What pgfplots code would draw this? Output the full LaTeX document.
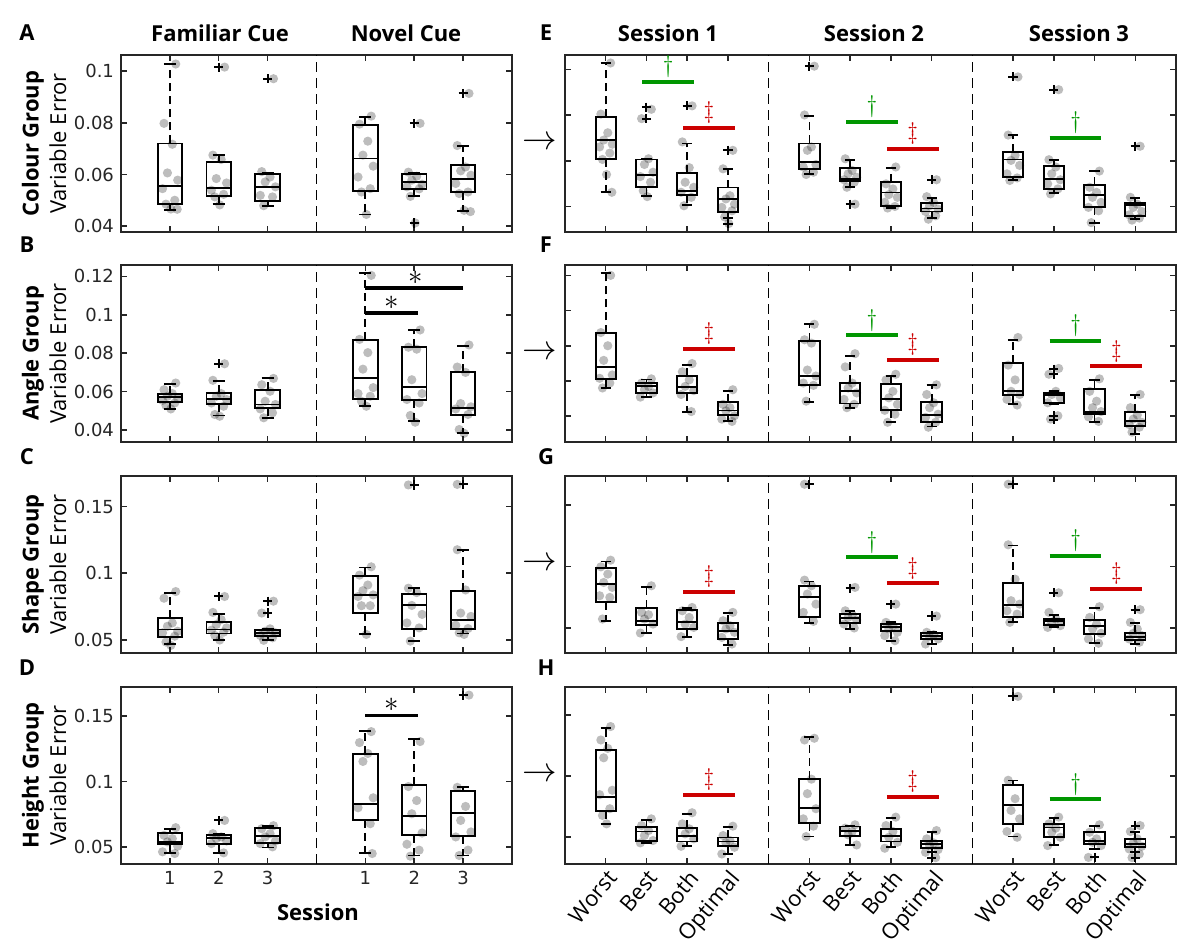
\documentclass[border=0pt]{standalone}
\usepackage{pgfplots}
\pgfplotsset{compat=1.18}
\usepackage{fontspec}
\setmainfont{Open Sans}
\newfontfamily\tickfont{DejaVu Sans}
\definecolor{sgreen}{RGB}{0,150,0}
\definecolor{sred}{RGB}{204,0,0}
\definecolor{axc}{RGB}{38,38,38}
\tikzset{
  sym/.style={anchor=south, inner sep=0pt, yshift=2pt, font=\fontsize{11.5}{11.5}\selectfont},
  star/.style={anchor=south, inner sep=0pt, yshift=1.5pt, font=\fontsize{15}{15}\selectfont},
}
\pgfplotsset{
  base/.style={
    scale only axis, anchor=south west, height=88.5pt,
    axis line style={line width=0.75pt, axc},
    tick style={line width=0.75pt, axc},
    major tick length=3pt,
    ticklabel style={font=\tickfont\fontsize{9}{10}\selectfont, text=axc},
    /pgf/number format/assume math mode=true,
    yticklabel style={/pgf/number format/fixed, /pgf/number format/precision=2},
    clip=false,
  },
  leftax/.style={base, width=195.5pt, xmin=0, xmax=8, xtick={1,2,3,5,6,7}, xticklabels={}},
  rightax/.style={base, width=305.5pt, xmin=0, xmax=15, xtick={1,2,3,4,6,7,8,9,11,12,13,14}, xticklabels={}, yticklabels={}},
  dotst/.style={only marks, mark=*, mark size=2.3pt, mark options={draw opacity=0, fill=black, fill opacity=0.26}},
  outst/.style={only marks, mark=+, mark size=2.3pt, mark options={black, line width=1pt}},
  sepl/.style={black, line width=0.7pt, dash pattern=on 5pt off 3pt},
  boxl/.style={black, solid, line width=0.95pt, no marks},
  wskl/.style={black, line width=0.9pt, dash pattern=on 4pt off 2.5pt, no marks},
}
% box: position, lower whisker, lower quartile, median, upper quartile, upper whisker
\newcommand\bx[6]{%
  \pgfmathsetmacro\xl{#1-0.25}\pgfmathsetmacro\xr{#1+0.25}%
  \pgfmathsetmacro\cl{#1-0.125}\pgfmathsetmacro\cr{#1+0.125}%
  \edef\tmpbx{%
    \noexpand\addplot[wskl] coordinates {(#1,#5) (#1,#6)};
    \noexpand\addplot[wskl] coordinates {(#1,#3) (#1,#2)};
    \noexpand\addplot[boxl] coordinates {(\cl,#6) (\cr,#6)};
    \noexpand\addplot[boxl] coordinates {(\cl,#2) (\cr,#2)};
    \noexpand\addplot[boxl, line join=miter] coordinates {(\xl,#3) (\xr,#3) (\xr,#5) (\xl,#5) (\xl,#3) (\xr,#3)};
    \noexpand\addplot[boxl] coordinates {(\xl,#4) (\xr,#4)};
  }\tmpbx}
\newcommand\sg[6]{\addplot[#1, line width=2pt] coordinates {(#2,#4) (#3,#4)};
  \node[sym, text=#1] at (axis cs:#5,#4) {#6};}
\newcommand\sigbar[4]{\addplot[black, line width=1.8pt] coordinates {(#1,#3) (#2,#3)};
  \node[star] at (axis cs:#4,#3) {$\ast$};}

\begin{document}
\begin{tikzpicture}
\path[use as bounding box] (0,0) rectangle (600pt,474.5pt);

% ---------------- A ----------------
\begin{axis}[leftax, at={(60.5pt,358.5pt)}, ymin=0.0377, ymax=0.1063, ytick={0.04,0.06,0.08,0.1}]
\addplot[sepl] coordinates {(4,0.0377) (4,0.1063)};
\addplot[dotst] coordinates {
(1.12,0.1028)(0.88,0.0798)(1.05,0.0717)(0.95,0.0606)(1.16,0.0578)(0.85,0.0545)(1.10,0.0500)(0.92,0.0485)(1.02,0.0466)(1.15,0.0465)
(2.12,0.1016)(1.88,0.0675)(2.05,0.0658)(1.95,0.0584)(2.16,0.0567)(1.85,0.0539)(2.10,0.0523)(1.92,0.0513)(2.02,0.0482)
(3.12,0.0971)(2.88,0.0611)(3.05,0.059)(2.95,0.0571)(3.16,0.0552)(2.85,0.0519)(3.10,0.0513)(2.92,0.0479)
(5.12,0.0826)(4.88,0.0795)(5.05,0.0729)(4.95,0.0675)(5.16,0.0632)(4.85,0.059)(5.10,0.0545)(4.92,0.0532)(5.02,0.0445)
(6.12,0.0798)(5.88,0.0609)(6.05,0.0593)(5.95,0.0578)(6.16,0.0562)(5.85,0.0552)(6.10,0.0544)(5.92,0.0515)(6.02,0.0412)
(7.12,0.0914)(6.88,0.0712)(7.05,0.0629)(6.95,0.0614)(7.16,0.0597)(6.85,0.0565)(7.10,0.0532)(6.92,0.0526)(7.02,0.0461)(7.15,0.0456)};
\bx{1}{0.0463}{0.0484}{0.0557}{0.0720}{0.1028}
\bx{2}{0.0484}{0.0518}{0.0549}{0.0647}{0.0675}
\bx{3}{0.0478}{0.0496}{0.0550}{0.0602}{0.0606}
\bx{5}{0.0445}{0.0536}{0.0662}{0.0790}{0.0824}
\bx{6}{0.0515}{0.0544}{0.0571}{0.0602}{0.0606}
\bx{7}{0.0458}{0.0532}{0.0584}{0.0637}{0.0712}
\addplot[outst] coordinates {(2,0.1016)(3,0.0971)(6,0.0798)(6,0.0412)(7,0.0914)};
\end{axis}

% ---------------- B ----------------
\begin{axis}[leftax, at={(60.5pt,253.5pt)}, ymin=0.0338, ymax=0.1259, ytick={0.04,0.06,0.08,0.1,0.12}]
\addplot[sepl] coordinates {(4,0.0338) (4,0.1259)};
\addplot[dotst] coordinates {
(1.12,0.0645)(0.88,0.061)(1.05,0.059)(0.95,0.0576)(1.16,0.0564)(0.85,0.0555)(1.10,0.0541)(0.92,0.0528)(1.02,0.051)
(2.12,0.0745)(1.88,0.0659)(2.05,0.059)(1.95,0.0576)(2.16,0.0559)(1.85,0.0541)(2.10,0.0524)(1.92,0.0481)(2.02,0.0472)
(3.12,0.0669)(2.88,0.0636)(3.05,0.0602)(2.95,0.055)(3.16,0.0533)(2.85,0.051)(3.10,0.049)(2.92,0.0464)
(5.12,0.1205)(4.88,0.0872)(5.05,0.0803)(4.95,0.0717)(5.16,0.0621)(4.85,0.059)(5.10,0.0576)(4.92,0.055)(5.02,0.0524)
(6.12,0.0921)(5.88,0.0831)(6.05,0.0821)(5.95,0.0662)(6.16,0.059)(5.85,0.0559)(6.10,0.0541)(5.92,0.0476)(6.02,0.0441)
(7.12,0.0843)(6.88,0.0728)(7.05,0.07)(6.95,0.0538)(7.16,0.0521)(6.85,0.051)(7.10,0.0481)(6.92,0.0403)(7.02,0.0383)};
\bx{1}{0.0510}{0.0547}{0.0572}{0.0590}{0.0641}
\bx{2}{0.0476}{0.0536}{0.0564}{0.0593}{0.0655}
\bx{3}{0.0464}{0.0514}{0.0533}{0.0610}{0.0669}
\bx{5}{0.0524}{0.0564}{0.0669}{0.0869}{0.1217}
\bx{6}{0.0445}{0.0557}{0.0622}{0.0831}{0.0921}
\bx{7}{0.0386}{0.0478}{0.0517}{0.0702}{0.0838}
\addplot[outst] coordinates {(2,0.0745)};
\sigbar{5}{6.07}{0.101}{5.53}
\sigbar{5}{7}{0.114}{6.03}
\end{axis}

% ---------------- C ----------------
\begin{axis}[leftax, at={(60.5pt,148pt)}, ymin=0.0403, ymax=0.1728, ytick={0.05,0.1,0.15}]
\addplot[sepl] coordinates {(4,0.0403) (4,0.1728)};
\addplot[dotst] coordinates {
(1.12,0.0863)(0.88,0.0813)(1.05,0.0628)(0.95,0.0603)(1.16,0.0566)(0.85,0.0554)(1.10,0.0529)(0.92,0.0485)(1.02,0.046)
(2.12,0.0826)(1.88,0.0707)(2.05,0.0653)(1.95,0.0616)(2.16,0.0591)(1.85,0.0574)(2.10,0.0559)(1.92,0.0534)(2.02,0.05)
(3.12,0.0791)(2.88,0.0702)(3.05,0.0584)(2.95,0.0566)(3.16,0.0554)(2.85,0.0534)(3.10,0.0517)(2.92,0.0498)
(5.12,0.1048)(4.88,0.0986)(5.05,0.0912)(4.95,0.0870)(5.16,0.0838)(4.85,0.0826)(5.10,0.0757)(4.92,0.0757)(5.02,0.0542)
(5.88,0.1661)(5.88,0.0888)(6.05,0.0855)(5.95,0.0759)(6.16,0.0692)(5.85,0.0628)(6.10,0.0591)(5.92,0.0492)
(6.88,0.1665)(6.88,0.1176)(7.05,0.0875)(6.95,0.0702)(7.16,0.0677)(6.85,0.0611)(7.10,0.0586)(6.92,0.0554)(7.02,0.0542)};
\bx{1}{0.0468}{0.0522}{0.0579}{0.0665}{0.0855}
\bx{2}{0.0500}{0.0549}{0.0579}{0.0636}{0.0697}
\bx{3}{0.0500}{0.0529}{0.0554}{0.0574}{0.0584}
\bx{5}{0.0547}{0.0702}{0.0840}{0.0981}{0.1043}
\bx{6}{0.0492}{0.0584}{0.0759}{0.0843}{0.0888}
\bx{7}{0.0549}{0.0586}{0.0653}{0.0868}{0.1171}
\addplot[outst] coordinates {(2,0.0826)(3,0.0791)(3,0.0702)(6,0.1661)(7,0.1665)};
\end{axis}

% ---------------- D ----------------
\begin{axis}[leftax, at={(60.5pt,42.5pt)}, ymin=0.0369, ymax=0.1722, ytick={0.05,0.1,0.15}, xticklabels={1,2,3,1,2,3}]
\addplot[sepl] coordinates {(4,0.0369) (4,0.1722)};
\addplot[dotst] coordinates {
(1.12,0.0647)(0.88,0.0588)(1.05,0.0563)(0.95,0.0538)(1.16,0.0505)(0.85,0.0462)(1.10,0.0449)
(2.12,0.0702)(1.88,0.0601)(2.05,0.0576)(1.95,0.0563)(2.16,0.0545)(1.85,0.0525)(2.10,0.0454)
(3.12,0.0662)(2.88,0.0639)(3.05,0.0601)(2.95,0.0576)(3.16,0.0545)(2.85,0.0525)(3.10,0.05)
(5.12,0.1381)(4.88,0.1297)(5.05,0.1214)(4.95,0.1153)(5.16,0.0875)(4.85,0.0799)(5.10,0.0677)(5.14,0.0449)
(6.12,0.1305)(5.88,0.0961)(6.05,0.0854)(5.95,0.0753)(6.16,0.0606)(5.85,0.052)(6.10,0.0475)(5.92,0.0429)
(7.12,0.166)(6.88,0.0955)(7.05,0.0809)(6.95,0.0702)(7.16,0.0614)(6.85,0.0576)(7.10,0.0475)(6.92,0.0434)};
\bx{1}{0.0454}{0.0520}{0.0538}{0.0606}{0.0637}
\bx{2}{0.0454}{0.0525}{0.0568}{0.0591}{0.0601}
\bx{3}{0.0495}{0.0530}{0.0581}{0.0642}{0.0657}
\bx{5}{0.0454}{0.0707}{0.0829}{0.1209}{0.1386}
\bx{6}{0.0434}{0.0588}{0.0735}{0.0975}{0.1323}
\bx{7}{0.0434}{0.0581}{0.0758}{0.0925}{0.0955}
\addplot[outst] coordinates {(2,0.0702)(7,0.166)};
\sigbar{5}{6.07}{0.1505}{5.53}
\end{axis}

% ---------------- E ----------------
\begin{axis}[rightax, at={(282.5pt,358.5pt)}, ymin=0.0288, ymax=0.1064, ytick={0.04,0.06,0.08,0.1}]
\addplot[sepl] coordinates {(5,0.0288) (5,0.1064)};
\addplot[sepl] coordinates {(10,0.0288) (10,0.1064)};
\addplot[dotst] coordinates {
(1.12,0.1029)(0.88,0.0805)(1.05,0.0723)(0.95,0.0691)(1.16,0.0673)(0.85,0.0661)(1.10,0.0634)(0.92,0.0606)(1.02,0.054)(1.15,0.0462)
(2.12,0.0826)(1.88,0.0785)(2.05,0.0609)(1.95,0.0584)(2.16,0.055)(1.85,0.0531)(2.10,0.0506)(1.92,0.0469)(2.02,0.0443)
(3.12,0.0841)(2.88,0.0683)(3.05,0.057)(2.95,0.0506)(3.16,0.0484)(2.85,0.0462)(3.10,0.044)(2.92,0.0403)
(4.12,0.0646)(3.88,0.0565)(4.05,0.0447)(3.95,0.0433)(4.16,0.041)(3.85,0.0396)(4.10,0.0381)(3.92,0.0354)(4.02,0.0325)
(6.12,0.1015)(5.88,0.0801)(6.05,0.0661)(5.95,0.0646)(6.16,0.0584)(5.85,0.0573)(6.10,0.055)(5.92,0.054)
(7.12,0.041)(6.88,0.0609)(7.05,0.0558)(6.95,0.0543)(7.16,0.0528)(6.85,0.0517)(7.10,0.0506)(6.92,0.0484)
(8.12,0.0573)(7.88,0.0499)(8.05,0.0477)(7.95,0.0452)(8.16,0.044)(7.85,0.0418)(8.10,0.04)(7.92,0.0393)
(9.12,0.0517)(8.88,0.0443)(9.05,0.0418)(8.95,0.0403)(9.16,0.0388)(8.85,0.0378)(9.10,0.0359)(8.92,0.0344)
(11.12,0.0968)(10.88,0.0713)(11.05,0.0624)(10.95,0.0602)(11.16,0.058)(10.85,0.0543)(11.10,0.0525)(10.92,0.0514)
(12.12,0.0912)(11.88,0.0605)(12.05,0.0573)(11.95,0.0543)(12.16,0.0517)(11.85,0.0499)(12.10,0.0477)(11.92,0.0455)
(13.12,0.0555)(12.88,0.0484)(13.05,0.0462)(12.95,0.044)(13.16,0.0418)(12.85,0.0396)(13.10,0.0381)(12.92,0.0329)
(14.12,0.0664)(13.88,0.044)(14.05,0.041)(13.95,0.0396)(14.16,0.0378)(13.85,0.0363)(14.10,0.0349)(13.92,0.034)};
\bx{1}{0.0465}{0.0609}{0.0693}{0.0791}{0.1029}
\bx{2}{0.0447}{0.0484}{0.0539}{0.0606}{0.0609}
\bx{3}{0.0407}{0.0452}{0.0466}{0.0545}{0.0676}
\bx{4}{0.0351}{0.0375}{0.0431}{0.0483}{0.0565}
\bx{6}{0.0543}{0.0564}{0.0595}{0.0676}{0.0797}
\bx{7}{0.0484}{0.0511}{0.0521}{0.0570}{0.0602}
\bx{8}{0.0393}{0.0403}{0.0461}{0.0508}{0.0567}
\bx{9}{0.0349}{0.0378}{0.0391}{0.0416}{0.0437}
\bx{11}{0.0514}{0.0531}{0.0606}{0.0637}{0.0713}
\bx{12}{0.0458}{0.0477}{0.0521}{0.0578}{0.0602}
\bx{13}{0.0328}{0.0396}{0.0450}{0.0493}{0.0555}
\bx{14}{0.0344}{0.0357}{0.0407}{0.0416}{0.0437}
\addplot[outst] coordinates {(2,0.0835)(2,0.0785)(3,0.0841)(4,0.0646)(4,0.0325)(6,0.1015)(7,0.041)(9,0.0517)(11,0.0968)(12,0.0912)(14,0.0664)};
\sg{sgreen}{1.9}{3.17}{0.0947}{2.535}{$\dagger$}
\sg{sred}{2.9}{4.17}{0.0746}{3.535}{$\ddagger$}
\sg{sgreen}{6.9}{8.17}{0.077}{7.535}{$\dagger$}
\sg{sred}{7.9}{9.17}{0.0652}{8.535}{$\ddagger$}
\sg{sgreen}{11.9}{13.17}{0.0701}{12.535}{$\dagger$}
\end{axis}

% ---------------- F ----------------
\begin{axis}[rightax, at={(282.5pt,253.5pt)}, ymin=0.0253, ymax=0.1259, ytick={0.04,0.06,0.08,0.1,0.12}]
\addplot[sepl] coordinates {(5,0.0253) (5,0.1259)};
\addplot[sepl] coordinates {(10,0.0253) (10,0.1259)};
\addplot[dotst] coordinates {
(1.12,0.12)(0.88,0.0875)(1.05,0.08)(0.95,0.0717)(1.16,0.0634)(0.85,0.0615)(1.10,0.0588)(0.92,0.056)
(2.12,0.0612)(1.88,0.0588)(2.05,0.0569)(1.95,0.055)(2.16,0.0532)(1.85,0.0508)
(3.12,0.0699)(2.88,0.0652)(3.05,0.0606)(2.95,0.0569)(3.16,0.0545)(2.85,0.0523)(3.10,0.0426)
(4.12,0.055)(3.88,0.0467)(4.05,0.0448)(3.95,0.043)(4.16,0.0402)(3.85,0.0383)(4.10,0.037)
(6.12,0.0922)(5.88,0.0834)(6.05,0.0815)(5.95,0.0662)(6.16,0.0628)(5.85,0.0588)(6.10,0.0575)(5.92,0.0485)
(7.12,0.0755)(6.88,0.068)(7.05,0.0588)(6.95,0.056)(7.16,0.0532)(6.85,0.0495)(7.10,0.0467)(6.92,0.0448)
(8.12,0.0638)(7.88,0.0606)(8.05,0.0541)(7.95,0.0504)(8.16,0.0467)(7.85,0.0433)(8.10,0.0411)(7.92,0.0365)
(9.12,0.0578)(8.88,0.0523)(9.05,0.0476)(8.95,0.0448)(9.16,0.0411)(8.85,0.0393)(9.10,0.0365)(8.92,0.0337)
(11.12,0.0847)(10.88,0.069)(11.05,0.0606)(10.95,0.0541)(11.16,0.0523)(10.85,0.0495)(11.10,0.0463)
(12.12,0.0671)(11.88,0.0638)(12.05,0.0541)(11.95,0.0523)(12.16,0.0504)(11.85,0.0476)(12.10,0.0402)(11.92,0.0383)
(13.12,0.0612)(12.88,0.0541)(13.05,0.0485)(12.95,0.0448)(13.16,0.0426)(12.85,0.0396)(13.10,0.037)
(14.12,0.0523)(13.88,0.0448)(14.05,0.0407)(13.95,0.0383)(14.16,0.0365)(13.85,0.0352)(14.10,0.0337)(13.92,0.0309)};
\bx{1}{0.0560}{0.0612}{0.0677}{0.0871}{0.1213}
\bx{2}{0.0511}{0.0534}{0.0569}{0.0586}{0.0608}
\bx{3}{0.0426}{0.0532}{0.0565}{0.0626}{0.0690}
\bx{4}{0.0374}{0.0404}{0.0432}{0.0482}{0.0545}
\bx{6}{0.0482}{0.0575}{0.0628}{0.0829}{0.0922}
\bx{7}{0.0445}{0.0472}{0.0541}{0.0589}{0.0743}
\bx{8}{0.0365}{0.0433}{0.0498}{0.0582}{0.0630}
\bx{9}{0.0341}{0.0367}{0.0407}{0.0482}{0.0578}
\bx{11}{0.0467}{0.0519}{0.0541}{0.0704}{0.0834}
\bx{12}{0.0470}{0.0474}{0.0519}{0.0530}{0.0541}
\bx{13}{0.0365}{0.0411}{0.0426}{0.0554}{0.0604}
\bx{14}{0.0300}{0.0344}{0.0374}{0.0422}{0.0519}
\addplot[outst] coordinates {(12,0.0667)(12,0.0638)(12,0.0402)(12,0.038)};
\sg{sred}{2.9}{4.17}{0.0782}{3.535}{$\ddagger$}
\sg{sgreen}{6.9}{8.17}{0.086}{7.535}{$\dagger$}
\sg{sred}{7.9}{9.17}{0.0721}{8.535}{$\ddagger$}
\sg{sgreen}{11.9}{13.17}{0.0827}{12.535}{$\dagger$}
\sg{sred}{12.9}{14.17}{0.0684}{13.535}{$\ddagger$}
\end{axis}

% ---------------- G ----------------
\begin{axis}[rightax, at={(282.5pt,148pt)}, ymin=0.0297, ymax=0.1735, ytick={0.05,0.1,0.15}]
\addplot[sepl] coordinates {(5,0.0297) (5,0.1735)};
\addplot[sepl] coordinates {(10,0.0297) (10,0.1735)};
\addplot[dotst] coordinates {
(1.12,0.1051)(0.88,0.0997)(1.05,0.0938)(0.95,0.087)(1.16,0.083)(0.85,0.0762)(1.10,0.0749)(0.92,0.0573)
(2.12,0.0843)(1.88,0.0627)(2.05,0.0608)(1.95,0.0573)(2.16,0.0532)(1.85,0.0459)
(3.12,0.0667)(2.88,0.064)(3.05,0.0586)(2.95,0.0532)(3.16,0.0505)(2.85,0.043)
(4.12,0.0627)(3.88,0.0559)(4.05,0.0519)(3.95,0.0492)(4.16,0.0465)(3.85,0.0424)(4.10,0.037)
(5.88,0.1668)(5.88,0.0889)(6.05,0.0843)(5.95,0.0776)(6.16,0.0694)(5.85,0.0627)(6.10,0.0554)
(7.12,0.083)(6.88,0.064)(7.05,0.0608)(6.95,0.0586)(7.16,0.0565)(6.85,0.0532)(7.10,0.05)
(8.12,0.0694)(7.88,0.0546)(8.05,0.0519)(7.95,0.0492)(8.16,0.0465)(7.85,0.0438)(8.10,0.0397)
(9.12,0.0597)(8.88,0.0465)(9.05,0.0446)(8.95,0.043)(9.16,0.0411)(8.85,0.037)
(10.88,0.1668)(10.88,0.1176)(11.05,0.0897)(10.95,0.0722)(11.16,0.0694)(10.85,0.064)(11.10,0.0613)(10.92,0.0546)
(12.12,0.0786)(11.88,0.0627)(12.05,0.0573)(11.95,0.0546)(12.16,0.0519)(11.85,0.0505)
(13.12,0.0673)(12.88,0.0586)(13.05,0.0532)(12.95,0.0492)(13.16,0.0457)(12.85,0.0411)(13.10,0.0376)
(14.12,0.0649)(13.88,0.0546)(14.05,0.0492)(13.95,0.0457)(14.16,0.0438)(13.85,0.0411)(14.10,0.0384)};
\bx{1}{0.0559}{0.0708}{0.0857}{0.0984}{0.1040}
\bx{2}{0.0459}{0.0524}{0.0559}{0.0665}{0.0835}
\bx{3}{0.0424}{0.0492}{0.0549}{0.0643}{0.0665}
\bx{4}{0.0362}{0.0408}{0.0478}{0.0538}{0.0622}
\bx{6}{0.0540}{0.0586}{0.0754}{0.0843}{0.0878}
\bx{7}{0.0492}{0.0543}{0.0581}{0.0613}{0.0635}
\bx{8}{0.0397}{0.0473}{0.0505}{0.0532}{0.0549}
\bx{9}{0.0370}{0.0408}{0.0438}{0.0462}{0.0465}
\bx{11}{0.0546}{0.0586}{0.0684}{0.0865}{0.1170}
\bx{12}{0.0511}{0.0524}{0.0554}{0.0570}{0.0608}
\bx{13}{0.0376}{0.0451}{0.0513}{0.0562}{0.0665}
\bx{14}{0.0370}{0.0403}{0.0430}{0.0462}{0.0540}
\addplot[outst] coordinates {(6,0.1668)(7,0.0824)(8,0.0694)(9,0.0597)(11,0.1668)(12,0.0786)(14,0.0649)};
\sg{sred}{2.9}{4.17}{0.0795}{3.535}{$\ddagger$}
\sg{sgreen}{6.9}{8.17}{0.1073}{7.535}{$\dagger$}
\sg{sred}{7.9}{9.17}{0.0862}{8.535}{$\ddagger$}
\sg{sgreen}{11.9}{13.17}{0.1089}{12.535}{$\dagger$}
\sg{sred}{12.9}{14.17}{0.0819}{13.535}{$\ddagger$}
\end{axis}

% ---------------- H ----------------
\begin{axis}[rightax, at={(282.5pt,42.5pt)}, ymin=0.0278, ymax=0.1728, ytick={0.05,0.1,0.15},
  xticklabels={Worst,Best,Both,Optimal,Worst,Best,Both,Optimal,Worst,Best,Both,Optimal},
  xticklabel style={font=\rmfamily\fontsize{11}{12}\selectfont, rotate=50, anchor=north east, text=black, inner sep=1.5pt}]
\addplot[sepl] coordinates {(5,0.0278) (5,0.1728)};
\addplot[sepl] coordinates {(10,0.0278) (10,0.1728)};
\addplot[dotst] coordinates {
(1.12,0.1404)(0.88,0.1294)(1.05,0.1225)(0.95,0.1148)(1.16,0.0882)(0.85,0.0846)(1.10,0.0731)(0.92,0.0676)(1.02,0.0607)
(2.12,0.0648)(1.88,0.0593)(2.05,0.0552)(1.95,0.0511)(2.16,0.047)(1.85,0.0451)
(3.12,0.0698)(2.88,0.0607)(3.05,0.0566)(2.95,0.0525)(3.16,0.0484)(2.85,0.0423)
(4.12,0.0588)(3.88,0.0511)(4.05,0.047)(3.95,0.0451)(4.16,0.0415)(3.85,0.036)
(6.12,0.1308)(5.88,0.1294)(6.05,0.0973)(5.95,0.0854)(6.16,0.0731)(5.85,0.0648)(6.10,0.0588)(5.92,0.0503)
(7.12,0.0599)(6.88,0.0572)(7.05,0.0544)(6.95,0.0517)(7.16,0.0434)
(8.12,0.0662)(7.88,0.0593)(8.05,0.0544)(7.95,0.0497)(8.16,0.0456)(7.85,0.0407)
(9.12,0.0552)(8.88,0.0484)(9.05,0.0451)(8.95,0.0429)(9.16,0.0396)(8.85,0.0374)(9.10,0.033)
(11.12,0.1651)(10.88,0.0964)(11.05,0.0813)(10.95,0.0717)(11.16,0.0648)(10.85,0.0544)(11.10,0.0497)
(12.12,0.0662)(11.88,0.0607)(12.05,0.0572)(11.95,0.0538)(12.16,0.0497)(11.85,0.0429)
(13.12,0.0599)(12.88,0.0538)(13.05,0.0484)(12.95,0.0456)(13.16,0.0429)(12.85,0.0332)
(14.12,0.0593)(13.88,0.0544)(14.05,0.0484)(13.95,0.0451)(14.16,0.0423)(13.85,0.0401)(14.10,0.036)(13.92,0.033)};
\bx{1}{0.0607}{0.0709}{0.0830}{0.1209}{0.1390}
\bx{2}{0.0451}{0.0470}{0.0544}{0.0580}{0.0640}
\bx{3}{0.0429}{0.0462}{0.0511}{0.0574}{0.0687}
\bx{4}{0.0360}{0.0429}{0.0462}{0.0495}{0.0580}
\bx{6}{0.0503}{0.0613}{0.0736}{0.0975}{0.1319}
\bx{7}{0.0434}{0.0511}{0.0547}{0.0585}{0.0593}
\bx{8}{0.0415}{0.0462}{0.0506}{0.0566}{0.0654}
\bx{9}{0.0374}{0.0409}{0.0442}{0.0464}{0.0538}
\bx{11}{0.0503}{0.0604}{0.0758}{0.0923}{0.0962}
\bx{12}{0.0434}{0.0500}{0.0577}{0.0604}{0.0654}
\bx{13}{0.0401}{0.0440}{0.0464}{0.0538}{0.0588}
\bx{14}{0.0374}{0.0415}{0.0442}{0.0484}{0.0538}
\addplot[outst] coordinates {(9,0.033)(11,0.1651)(13,0.0332)(14,0.0593)(14,0.033)};
\sg{sred}{2.9}{4.17}{0.0846}{3.535}{$\ddagger$}
\sg{sred}{7.9}{9.17}{0.083}{8.535}{$\ddagger$}
\sg{sgreen}{11.9}{13.17}{0.0808}{12.535}{$\dagger$}
\end{axis}

% ---------------- text ----------------
\begin{scope}[every node/.style={font=\bfseries\fontsize{11}{13}\selectfont, inner sep=0pt}]
\node at (110pt,458pt) {Familiar Cue};
\node at (203pt,458pt) {Novel Cue};
\node at (334pt,458pt) {Session 1};
\node at (437pt,458pt) {Session 2};
\node at (539.5pt,458pt) {Session 3};
\node at (159pt,18.5pt) {Session};
\node at (13.5pt,458pt) {A};
\node at (13.5pt,352pt) {B};
\node at (13.5pt,246pt) {C};
\node at (13.5pt,140.5pt) {D};
\node at (273pt,458pt) {E};
\node at (273pt,352pt) {F};
\node at (273pt,246pt) {G};
\node at (273pt,140.5pt) {H};
\node[rotate=90] at (16.5pt,402.75pt) {Colour Group};
\node[rotate=90] at (16.5pt,297.75pt) {Angle Group};
\node[rotate=90] at (16.5pt,192.25pt) {Shape Group};
\node[rotate=90] at (16.5pt,86.75pt) {Height Group};
\end{scope}
\begin{scope}[every node/.style={font=\fontsize{11}{13}\selectfont, inner sep=0pt, rotate=90}]
\node at (29pt,402.75pt) {Variable Error};
\node at (29pt,297.75pt) {Variable Error};
\node at (29pt,192.25pt) {Variable Error};
\node at (29pt,86.75pt) {Variable Error};
\end{scope}
\begin{scope}[every node/.style={font=\fontsize{17}{17}\selectfont, inner sep=0pt}]
\node at (270pt,402.75pt) {$\rightarrow$};
\node at (270pt,297.75pt) {$\rightarrow$};
\node at (270pt,192.25pt) {$\rightarrow$};
\node at (270pt,86.75pt) {$\rightarrow$};
\end{scope}
\end{tikzpicture}
\end{document}
